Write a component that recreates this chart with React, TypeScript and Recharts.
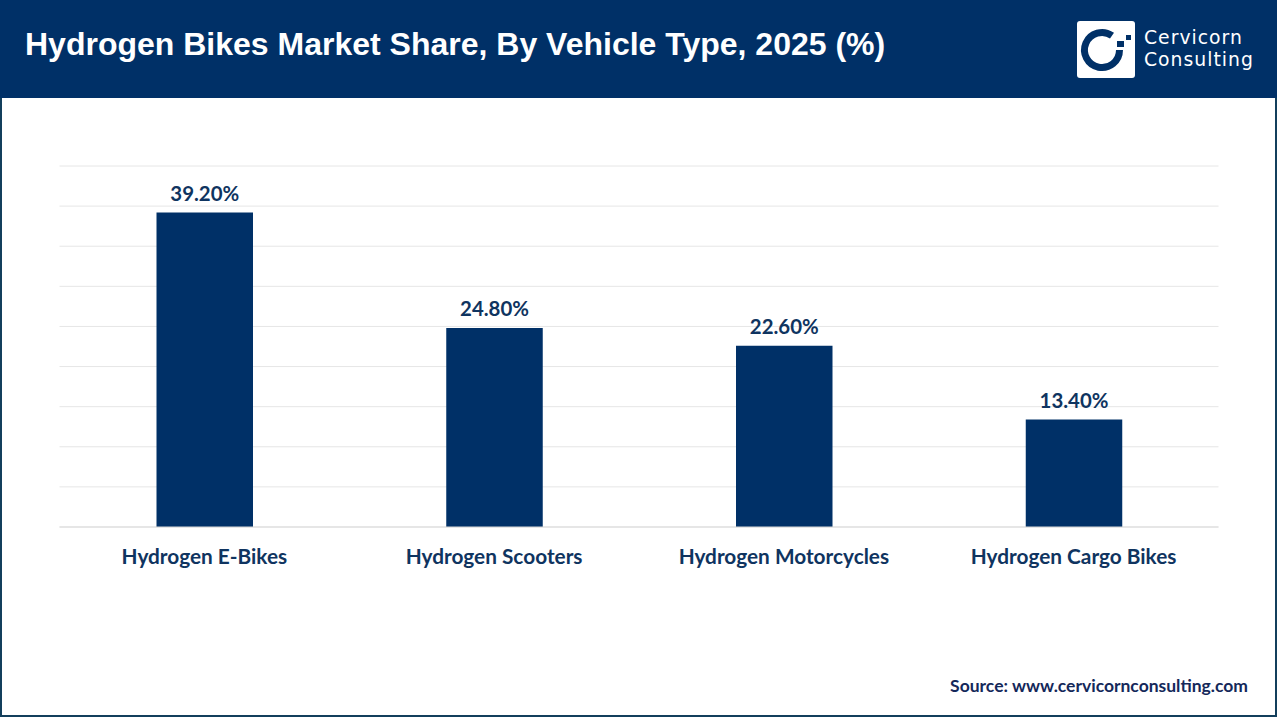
import React from "react";
import { BarChart, Bar, XAxis, YAxis, CartesianGrid, LabelList } from "recharts";

const categories = ["Hydrogen E-Bikes", "Hydrogen Scooters", "Hydrogen Motorcycles", "Hydrogen Cargo Bikes"];
const shares = [39.2, 24.8, 22.6, 13.4];
const yTicks = [0, 5, 10, 15, 20, 25, 30, 35, 40, 45];
const titleText = "Hydrogen Bikes Market Share, By Vehicle Type, 2025 (%)";
const sourceText = "Source: www.cervicornconsulting.com";
const logoLines = ["Cervicorn", "Consulting"];

const chartData = categories.map((name, i) => ({ name, share: shares[i] }));
const NAVY = "#003067";
const TEXT = "#0f3460";
const LATO = "Lato, Carlito, sans-serif";

export default function App() {
  return (
    <div style={{ position: "absolute", left: 0, top: 0, width: 1280, height: 720, background: "#fff", overflow: "hidden" }}>
      <div style={{ position: "absolute", left: 0, top: 0, width: 1277, height: 717, boxSizing: "border-box", border: "2px solid #133f5c" }} />
      <div style={{ position: "absolute", left: 0, top: 0, width: 1277, height: 98, background: NAVY }} />
      <div style={{ position: "absolute", left: 25, top: 24, color: "#fff", font: "bold 32px 'Liberation Sans', Arial, sans-serif", lineHeight: "40px", whiteSpace: "nowrap" }}>{titleText}</div>

      <svg width={60} height={60} style={{ position: "absolute", left: 1076, top: 20 }}>
        <rect x={1} y={1} width={58} height={57} rx={3} fill="#fff" />
        <path d="M 36 15.7 A 17.5 17.5 0 1 0 43.5 30" fill="none" stroke={NAVY} strokeWidth={7} />
        <rect x={41} y={21} width={7} height={6} fill={NAVY} />
        <rect x={50} y={15} width={5} height={5} fill={NAVY} />
      </svg>
      <div style={{ position: "absolute", left: 1144, top: 27, color: "#fff", font: "400 18.8px 'DejaVu Sans', sans-serif", letterSpacing: 1, lineHeight: "22px", whiteSpace: "nowrap" }}>
        {logoLines.map((l) => <div key={l}>{l}</div>)}
      </div>

      <div style={{ position: "absolute", left: 0, top: 0 }}>
        <BarChart width={1280} height={720} data={chartData} margin={{ left: 59.5, right: 61.5, top: 166, bottom: 153 }} barSize={96.5}>
          <CartesianGrid horizontal vertical={false} stroke="#e6e6e6" strokeWidth={1} />
          <YAxis hide domain={[0, 45]} ticks={yTicks} />
          <XAxis
            dataKey="name"
            interval={0}
            axisLine={{ stroke: "#d9d9d9", strokeWidth: 1 }}
            tickLine={false}
            tickMargin={16}
            height={40}
            tick={{ fill: TEXT, fontFamily: LATO, fontWeight: 700, fontSize: 20.8 }}
          />
          <Bar dataKey="share" fill={NAVY} isAnimationActive={false}>
            <LabelList
              dataKey="share"
              position="top"
              offset={12}
              formatter={(v: number) => `${v.toFixed(2)}%`}
              style={{ fill: TEXT, fontFamily: LATO, fontWeight: 700, fontSize: 20.4 }}
            />
          </Bar>
        </BarChart>
      </div>

      <div style={{ position: "absolute", right: 32, top: 676, color: "#14285a", font: `700 17.5px ${LATO}`, lineHeight: "20px", whiteSpace: "nowrap" }}>{sourceText}</div>
    </div>
  );
}
